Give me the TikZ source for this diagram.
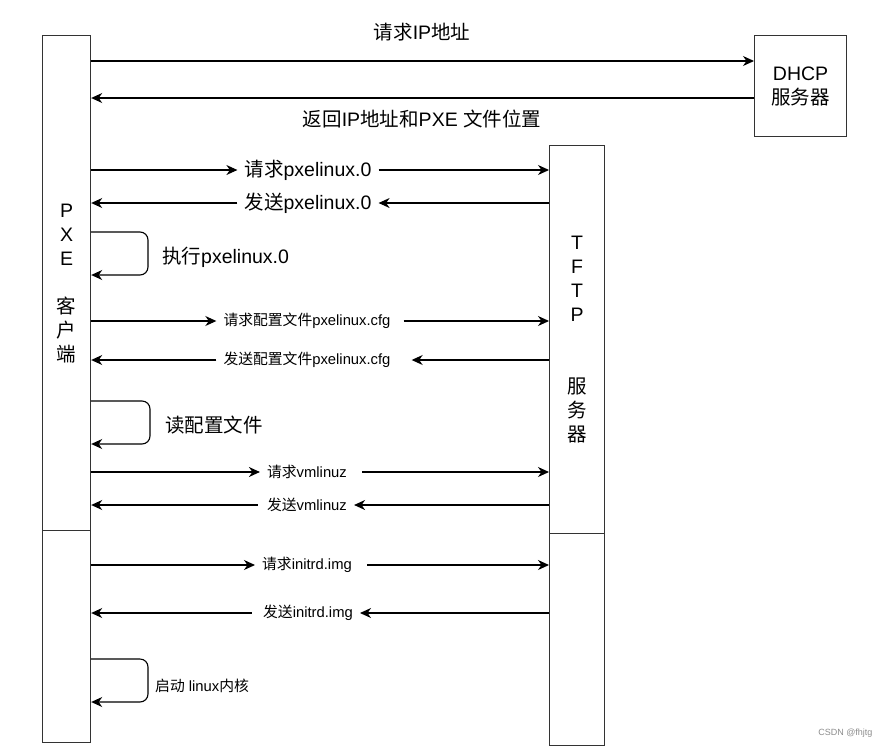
\documentclass[tikz,border=0pt]{standalone}
\usepackage{fontspec}
\setmainfont{Liberation Sans}
\newfontfamily\cjkfont{Noto Sans CJK SC}
\newcommand\zh[1]{{\cjkfont #1}}
\usetikzlibrary{arrows.meta}
\tikzset{
  box/.style={draw=black!80, line width=1.2pt, inner sep=0pt, align=center},
  arr/.style={line width=1.1pt, -{Stealth[length=11pt, width=10pt, inset=3.5pt]}},
  big/.style={font=\fontsize{19.5}{24}\selectfont},
  small/.style={font=\fontsize{14.8}{18}\selectfont},
  lbl/.style={inner ysep=0pt, inner xsep=7pt},
  wm/.style={font=\fontsize{9}{10}\selectfont, text=black!45},
}
\begin{document}
\begin{tikzpicture}[x=1pt,y=-1pt]
\useasboundingbox (0,0) rectangle (891,750);

% boxes
\node[box, big, minimum width=48pt, minimum height=495pt, anchor=north west] (cl1) at (42,35) {P\\X\\E\\\mbox{}\\\zh{客}\\\zh{户}\\\zh{端}};
\node[box, minimum width=48pt, minimum height=212pt, anchor=north west] (cl2) at (42,530) {};
\node[box, big, minimum width=92pt, minimum height=101pt, anchor=north west] (dh) at (754,35) {DHCP\\\zh{服务器}};
\node[box, big, minimum width=55pt, minimum height=388pt, anchor=north west] (tf1) at (549,145) {T\\F\\T\\P\\\mbox{}\\\mbox{}\\\zh{服}\\\zh{务}\\\zh{器}};
\node[box, minimum width=55pt, minimum height=212pt, anchor=north west] (tf2) at (549,533) {};

% DHCP exchange
\coordinate (y1) at (0,61);
\coordinate (y2) at (0,98);
\draw[arr] (cl1.east |- y1) -- (dh.west |- y1);
\node[big] (t1) at (422,32) {\zh{请求}IP\zh{地址}};
\draw[arr] (dh.west |- y2) -- (cl1.east |- y2);
\node[big] (t2) at (422,119) {\zh{返回}IP\zh{地址和}PXE \zh{文件位置}};

% pxelinux.0
\node[big,lbl] (r1) at (308,170) {\zh{请求}pxelinux.0};
\draw[arr] (cl1.east |- r1) -- (r1.west);
\draw[arr] (r1.east) -- (tf1.west |- r1);
\node[big,lbl] (r2) at (308,203) {\zh{发送}pxelinux.0};
\draw[arr] (tf1.west |- r2) -- (r2.east);
\draw[arr] (r2.west) -- (cl1.east |- r2);

% loop 1
\coordinate (l1a) at (0,232);
\coordinate (l1b) at (0,275);
\draw[arr, rounded corners=8pt] (cl1.east |- l1a) -- (148,232) -- (148,275) -- (cl1.east |- l1b);
\node[big, anchor=west, inner sep=0pt] (e1) at (162,257) {\zh{执行}pxelinux.0};

% cfg
\node[small,lbl] (r3) at (307,321) {\zh{请求配置文件}pxelinux.cfg};
\draw[arr] (cl1.east |- r3) -- (r3.west);
\draw[arr] ([xshift=6pt]r3.east) -- (tf1.west |- r3);
\node[small,lbl] (r4) at (307,360) {\zh{发送配置文件}pxelinux.cfg};
\draw[arr] (tf1.west |- r4) -- ([xshift=14pt]r4.east);
\draw[arr] (r4.west) -- (cl1.east |- r4);

% loop 2
\coordinate (l2a) at (0,401);
\coordinate (l2b) at (0,444);
\draw[arr, rounded corners=8pt] (cl1.east |- l2a) -- (150,401) -- (150,444) -- (cl1.east |- l2b);
\node[big, anchor=west, inner sep=0pt] (e2) at (165,425) {\zh{读配置文件}};

% vmlinuz
\node[small,lbl] (r5) at (307,472) {\zh{请求}vmlinuz};
\draw[arr] (cl1.east |- r5) -- (r5.west);
\draw[arr] ([xshift=8pt]r5.east) -- (tf1.west |- r5);
\node[small,lbl] (r6) at (307,505) {\zh{发送}vmlinuz};
\draw[arr] (tf1.west |- r6) -- (r6.east);
\draw[arr] ([xshift=-2pt]r6.west) -- (cl1.east |- r6);

% initrd
\node[small,lbl] (r7) at (307,565) {\zh{请求}initrd.img};
\draw[arr] (cl2.east |- r7) -- (r7.west);
\draw[arr] ([xshift=8pt]r7.east) -- (tf2.west |- r7);
\node[small,lbl] (r8) at (308,613) {\zh{发送}initrd.img};
\draw[arr] (tf2.west |- r8) -- (r8.east);
\draw[arr] ([xshift=-4pt]r8.west) -- (cl2.east |- r8);

% loop 3
\coordinate (l3a) at (0,659);
\coordinate (l3b) at (0,702);
\draw[arr, rounded corners=8pt] (cl2.east |- l3a) -- (148,659) -- (148,702) -- (cl2.east |- l3b);
\node[small, anchor=west, inner sep=0pt] (e3) at (155,686) {\zh{启动} linux\zh{内核}};

% watermark
\node[wm, anchor=east] (w) at (876,733) {CSDN @fhjtg};
\end{tikzpicture}
\end{document}
